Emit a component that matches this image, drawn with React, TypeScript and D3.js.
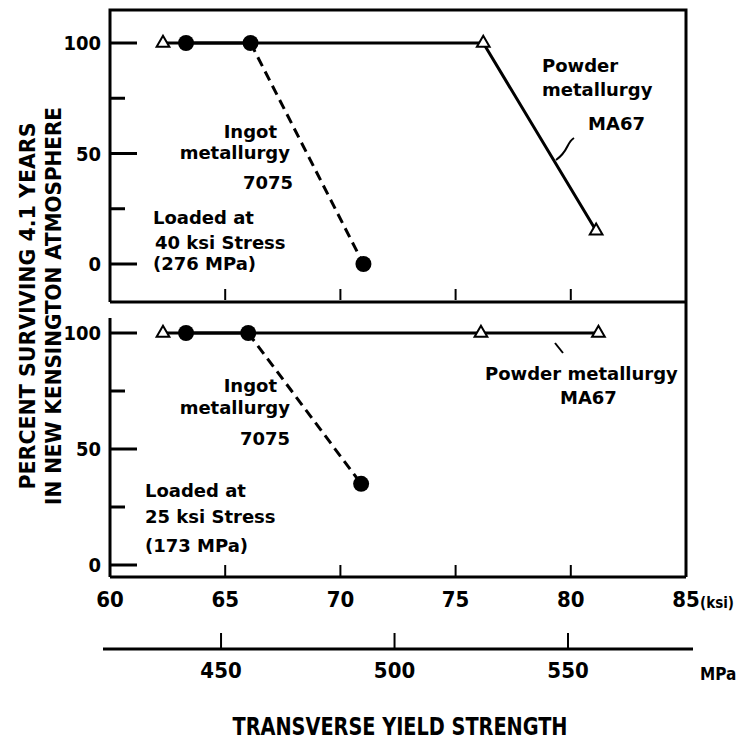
import { useEffect, useRef } from 'react';
import * as d3 from 'd3';

// x = transverse yield strength (ksi), y = percent surviving
const ingotTop = [
  { ksi: 63.3, pct: 100 },
  { ksi: 66.1, pct: 100 },
  { ksi: 71.0, pct: 0 },
];
const powderTop = [
  { ksi: 62.3, pct: 100 },
  { ksi: 76.2, pct: 100 },
  { ksi: 81.1, pct: 15 },
];
const ingotBottom = [
  { ksi: 63.3, pct: 100 },
  { ksi: 66.0, pct: 100 },
  { ksi: 70.9, pct: 35 },
];
const powderBottom = [
  { ksi: 62.3, pct: 100 },
  { ksi: 76.1, pct: 100 },
  { ksi: 81.2, pct: 100 },
];

const ksiTicks = [60, 65, 70, 75, 80, 85];
const mpaTicks = [450, 500, 550];
const pctTicks = [0, 50, 100];
const pctMinor = [25, 75];

const FONT = "'DejaVu Sans', sans-serif";
const NARROW = "'Liberation Sans Narrow', 'DejaVu Sans Condensed', sans-serif";

const App = () => {
  const svgRef = useRef<SVGSVGElement>(null);

  useEffect(() => {
    document.body.style.margin = '0';
    const width = 744;
    const height = 745;
    const svg = d3.select(svgRef.current)
      .attr('width', width)
      .attr('height', height)
      .style('display', 'block');
    svg.selectAll('*').remove();

    const x = d3.scaleLinear().domain([60, 85]).range([110, 686]);
    const mpa = d3.scaleLinear().domain([418, 584]).range([110, 686]);
    const yTop = d3.scaleLinear().domain([0, 100]).range([264, 43]);
    const yBot = d3.scaleLinear().domain([0, 100]).range([565, 333]);

    const ink = '#000';

    // frames
    const frame = svg.append('g').attr('fill', 'none').attr('stroke', ink).attr('stroke-width', 3);
    frame.append('path').attr('d', 'M110,302 L110,10 L686,10 L686,577');
    frame.append('line').attr('x1', 110).attr('x2', 686).attr('y1', 302).attr('y2', 302);
    frame.append('line').attr('x1', 110).attr('x2', 110).attr('y1', 318).attr('y2', 577);
    frame.append('line').attr('x1', 110).attr('x2', 686).attr('y1', 577).attr('y2', 577);

    // y ticks for both panels
    [yTop, yBot].forEach((y) => {
      pctTicks.forEach((t) => {
        svg.append('line').attr('x1', 110).attr('x2', 137).attr('y1', y(t)).attr('y2', y(t))
          .attr('stroke', ink).attr('stroke-width', 3);
        svg.append('text').attr('x', 101).attr('y', y(t) + 7).attr('text-anchor', 'end')
          .attr('font-family', NARROW).attr('font-weight', 'bold').attr('font-size', 20)
          .text(t);
      });
      pctMinor.forEach((t) => {
        svg.append('line').attr('x1', 110).attr('x2', 125).attr('y1', y(t)).attr('y2', y(t))
          .attr('stroke', ink).attr('stroke-width', 3);
      });
    });

    // inner x ticks
    ksiTicks.slice(1, -1).forEach((t) => {
      svg.append('line').attr('x1', x(t)).attr('x2', x(t)).attr('y1', 289).attr('y2', 300)
        .attr('stroke', ink).attr('stroke-width', 2);
      svg.append('line').attr('x1', x(t)).attr('x2', x(t)).attr('y1', 565).attr('y2', 577)
        .attr('stroke', ink).attr('stroke-width', 2);
    });
    ksiTicks.forEach((t) => {
      svg.append('text').attr('x', x(t)).attr('y', 607).attr('text-anchor', 'middle')
        .attr('font-family', NARROW).attr('font-weight', 'bold').attr('font-size', 22)
        .text(t);
    });
    svg.append('text').attr('x', 700).attr('y', 608).attr('font-family', NARROW)
      .attr('font-weight', 'bold').attr('font-size', 15).text('(ksi)');

    // MPa axis
    svg.append('line').attr('x1', 103).attr('x2', 693).attr('y1', 649).attr('y2', 649)
      .attr('stroke', ink).attr('stroke-width', 3);
    mpaTicks.forEach((t) => {
      svg.append('line').attr('x1', mpa(t)).attr('x2', mpa(t)).attr('y1', 633).attr('y2', 649)
        .attr('stroke', ink).attr('stroke-width', 2);
      svg.append('text').attr('x', mpa(t)).attr('y', 678).attr('text-anchor', 'middle')
        .attr('font-family', NARROW).attr('font-weight', 'bold').attr('font-size', 22)
        .text(t);
    });
    svg.append('text').attr('x', 700).attr('y', 680).attr('font-family', NARROW)
      .attr('font-weight', 'bold').attr('font-size', 17).text('MPa');

    // titles
    svg.append('text').attr('x', 400).attr('y', 735).attr('text-anchor', 'middle')
      .attr('font-family', NARROW).attr('font-weight', 'bold').attr('font-size', 24)
      .attr('textLength', 335).attr('lengthAdjust', 'spacingAndGlyphs')
      .text('TRANSVERSE YIELD STRENGTH');
    const yl = svg.append('g').attr('transform', 'translate(0,306) rotate(-90)')
      .attr('font-family', NARROW).attr('font-weight', 'bold').attr('font-size', 21)
      .attr('text-anchor', 'middle');
    yl.append('text').attr('x', 0).attr('y', 35).attr('textLength', 367)
      .attr('lengthAdjust', 'spacingAndGlyphs').text('PERCENT SURVIVING 4.1 YEARS');
    yl.append('text').attr('x', 0).attr('y', 61).attr('textLength', 398)
      .attr('lengthAdjust', 'spacingAndGlyphs').text('IN NEW KENSINGTON ATMOSPHERE');

    const tri = d3.symbol().type(d3.symbolTriangle).size(70);

    const drawPanel = (
      y: d3.ScaleLinear<number, number>,
      ingot: { ksi: number; pct: number }[],
      powder: { ksi: number; pct: number }[],
    ) => {
      const line = d3.line<{ ksi: number; pct: number }>().x((d) => x(d.ksi)).y((d) => y(d.pct));
      svg.append('path').attr('d', line(powder)).attr('fill', 'none')
        .attr('stroke', ink).attr('stroke-width', 3);
      svg.append('path').attr('d', line(ingot.slice(0, 2))).attr('fill', 'none')
        .attr('stroke', ink).attr('stroke-width', 3);
      svg.append('path').attr('d', line(ingot.slice(1))).attr('fill', 'none')
        .attr('stroke', ink).attr('stroke-width', 3).attr('stroke-dasharray', '10,6');
      svg.selectAll(null).data(powder).enter().append('path')
        .attr('d', tri).attr('transform', (d) => `translate(${x(d.ksi)},${y(d.pct)})`)
        .attr('fill', '#fff').attr('stroke', ink).attr('stroke-width', 2);
      svg.selectAll(null).data(ingot).enter().append('circle')
        .attr('cx', (d) => x(d.ksi)).attr('cy', (d) => y(d.pct)).attr('r', 8).attr('fill', ink);
    };
    drawPanel(yTop, ingotTop, powderTop);
    drawPanel(yBot, ingotBottom, powderBottom);

    const label = (tx: number, ty: number, s: string, anchor = 'start') => {
      svg.append('text').attr('x', tx).attr('y', ty).attr('text-anchor', anchor)
        .attr('font-family', FONT).attr('font-weight', 'bold').attr('font-size', 18).text(s);
    };
    label(277, 138, 'Ingot', 'end');
    label(290, 159, 'metallurgy', 'end');
    label(293, 189, '7075', 'end');
    label(153, 224, 'Loaded at');
    label(155, 249, '40 ksi Stress');
    label(153, 270, '(276 MPa)');
    label(542, 72, 'Powder');
    label(542, 96, 'metallurgy');
    label(645, 130, 'MA67', 'end');

    label(277, 392, 'Ingot', 'end');
    label(290, 414, 'metallurgy', 'end');
    label(290, 445, '7075', 'end');
    label(145, 497, 'Loaded at');
    label(145, 523, '25 ksi Stress');
    label(145, 552, '(173 MPa)');
    label(485, 380, 'Powder metallurgy');
    label(560, 404, 'MA67');

    // leaders
    svg.append('path').attr('d', 'M574,138 C566,143 569,151 556,160').attr('fill', 'none')
      .attr('stroke', ink).attr('stroke-width', 2);
    svg.append('path').attr('d', 'M555,343 L563,353').attr('fill', 'none')
      .attr('stroke', ink).attr('stroke-width', 2);
  }, []);

  return (
    <div>
      <svg ref={svgRef}></svg>
    </div>
  );
};

export default App;
